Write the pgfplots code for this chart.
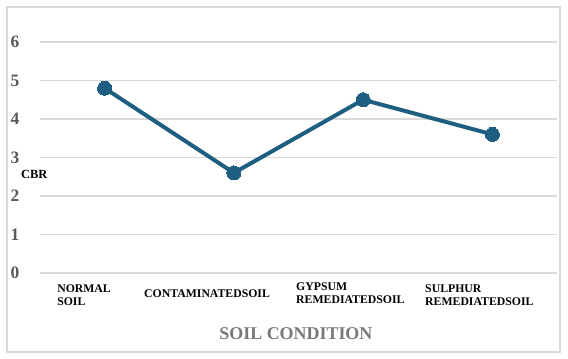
\documentclass[border=0pt]{standalone}
\usepackage{fontspec}
\setmainfont{Liberation Serif}
\usepackage{pgfplots}
\pgfplotsset{compat=1.18}
\definecolor{lineblue}{RGB}{30,94,128}
\definecolor{gridgray}{RGB}{217,217,217}
\definecolor{ticklab}{RGB}{89,89,89}
\definecolor{titlegray}{RGB}{120,120,120}
\begin{document}
\begin{tikzpicture}
\begin{axis}[
  scale only axis,
  width=517bp, height=231bp,
  xmin=-0.5, xmax=3.5, ymin=0, ymax=6,
  axis line style={draw=none},
  clip=false,
  xtick={0,1,2,3},
  xticklabels={},
  ytick={0,1,2,3,4,5,6},
  ymajorgrids,
  grid style={gridgray, line width=1.2bp},
  tick style={draw=none},
  /pgf/number format/assume math mode=true,
  yticklabel style={font=\fontsize{17.5}{17.5}\selectfont\bfseries, text=ticklab, anchor=center, xshift=-25bp},
]
\addplot[color=lineblue, line width=4bp, mark=*, mark size=7bp, mark options={fill=lineblue, draw=lineblue, line width=0pt}]
  coordinates {(0,4.8) (1,2.6) (2,4.5) (3,3.6)};

% border and bounding box
\draw[gridgray, line width=1.2bp] (rel axis cs:-0.0638,-0.3420) rectangle (rel axis cs:1.0058,1.1515);
\coordinate (bbA) at (rel axis cs:-0.07737,-0.3723);
\coordinate (bbB) at (rel axis cs:1.02128,1.1818);

% category labels
\begin{scope}[every node/.style={font=\fontsize{11.8}{13}\selectfont\bfseries, anchor=north west, align=left, inner sep=0pt}]
\node at (axis cs:-0.368,-0.31) {NORMAL\\SOIL};
\node at (axis cs:0.305,-0.42) {CONTAMINATEDSOIL};
\node at (axis cs:1.481,-0.26) {GYPSUM\\REMEDIATEDSOIL};
\node at (axis cs:2.479,-0.31) {SULPHUR\\REMEDIATEDSOIL};
\end{scope}
\node[anchor=west, inner sep=0pt, font=\fontsize{12.5}{13}\selectfont\bfseries] at (rel axis cs:-0.0368,0.425) {CBR};
\node[inner sep=0pt, font=\fontsize{18}{18}\selectfont\bfseries, text=titlegray] at (rel axis cs:0.495,-0.264) {SOIL CONDITION};
\end{axis}
\pgfresetboundingbox
\useasboundingbox (bbA) rectangle (bbB);
\end{tikzpicture}
\end{document}
